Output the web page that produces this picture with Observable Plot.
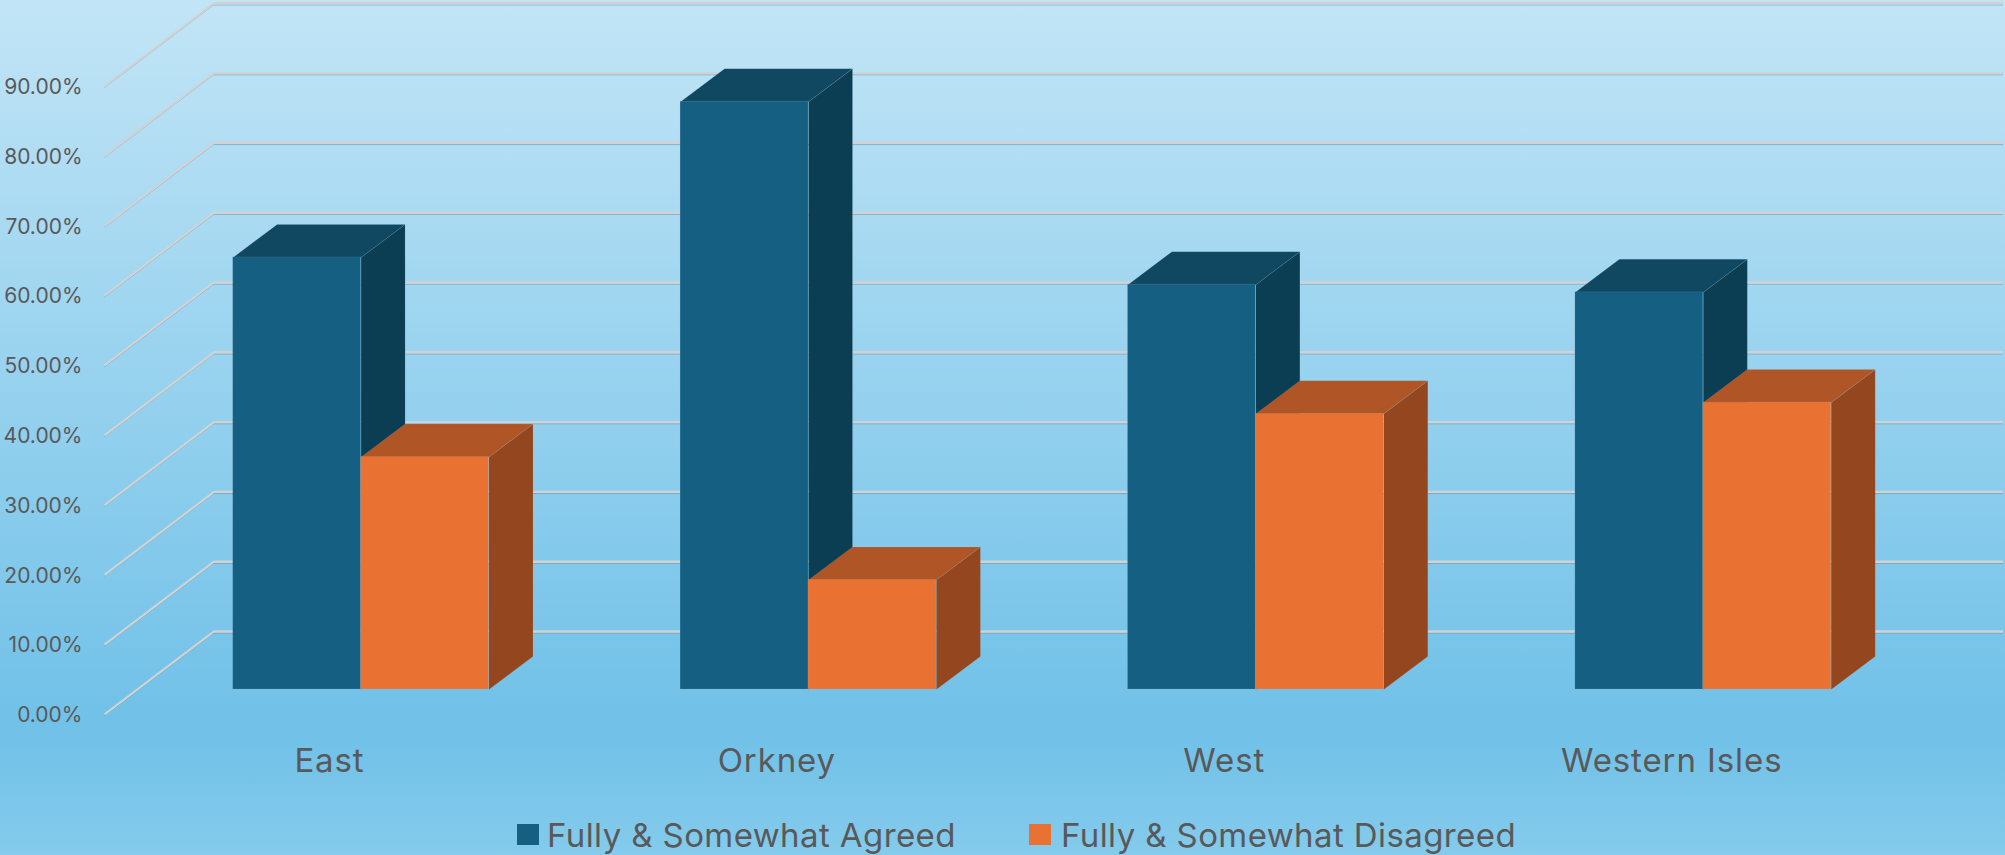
<!DOCTYPE html>
<html>
<head>
<meta charset="utf-8">
<script src="https://cdn.jsdelivr.net/npm/d3@7"></script>
<script src="https://cdn.jsdelivr.net/npm/@observablehq/plot@0.6"></script>
<style>
html,body{margin:0;padding:0;overflow:hidden;}
#page{position:relative;width:2005px;height:855px;overflow:hidden;
background:linear-gradient(180deg,#c2e5f6 0%,#71c1e8 84%,#71c1e8 86%,#84cbec 100%);}
#page svg{display:block;background:transparent;}
#page svg [aria-label="x-axis tick label"]{letter-spacing:0.9px;}
#legend{position:absolute;left:0;top:810px;width:2005px;height:45px;font-family:Inter,sans-serif;font-size:33px;letter-spacing:0.4px;color:#595959;}
#legend span{position:absolute;white-space:nowrap;}
</style>
</head>
<body>
<div id="page"><div id="chart"></div><div id="legend"></div></div>
<script>
const categories = ["East", "Orkney", "West", "Western Isles"];
const seriesNames = ["Fully & Somewhat Agreed", "Fully & Somewhat Disagreed"];
const agreed = [61.9, 84.2, 58.0, 56.9];
const disagreed = [33.3, 15.7, 39.5, 41.1];
const yTicks = [0, 10, 20, 30, 40, 50, 60, 70, 80, 90];
const frontColors = ["#156082", "#e97132"];
const topColors = ["#104862", "#b05525"];
const sideColors = ["#0b3e53", "#94471f"];

const values = [agreed, disagreed];
const barW = 0.2859, depthX = 0.0983, depthY = 4.73;
const wallFrontX = -0.2876, wallBackX = -0.0429, wallFrontY = -3.58, wallBackY = 8.31, gridEnd = 3.957, labelOffset = 0.2152;

const fronts = [], faces = [];
categories.forEach((c, i) => {
  seriesNames.forEach((s, k) => {
    const v = values[k][i], x0 = i + k * barW, x1 = x0 + barW;
    fronts.push({x1: x0, x2: x1, v, color: frontColors[k]});
    const side = `${c}-${k}-side`, top = `${c}-${k}-top`;
    [[x1, 0], [x1 + depthX, depthY], [x1 + depthX, v + depthY], [x1, v]].forEach(([x, y]) => faces.push({id: side, x, y, color: sideColors[k]}));
    [[x0, v], [x0 + depthX, v + depthY], [x1 + depthX, v + depthY], [x1, v]].forEach(([x, y]) => faces.push({id: top, x, y, color: topColors[k]}));
  });
});

const gridStyle = {stroke: "#d2d2d2", strokeWidth: 2.4};
const shadeStyle = {stroke: "#5f8fae", strokeWidth: 1, strokeOpacity: 0.55, dy: 1.7};
const wall = yTicks.map(v => ({x1: wallFrontX, y1: v + wallFrontY, x2: wallBackX, y2: v + wallBackY}));
const grid = yTicks.map(v => ({v: v + wallBackY}));
const edge = {stroke: "#9fc4d6", strokeOpacity: 0.15, strokeWidth: 0.8};

const chart = Plot.plot({
  width: 2005, height: 810,
  marginLeft: 85, marginRight: 0, marginTop: 0, marginBottom: 121,
  style: {background: "transparent", fontFamily: "Inter,sans-serif"},
  x: {type: "linear", domain: [-0.33013, 3.96133], axis: null},
  y: {domain: [0, 98.71], axis: null},
  marks: [
    Plot.ruleY(grid, {y: "v", x1: wallBackX, x2: gridEnd, ...shadeStyle}),
    Plot.link(wall, {x1: "x1", y1: "y1", x2: "x2", y2: "y2", ...shadeStyle, dy: 1.3}),
    Plot.ruleY(grid, {y: "v", x1: wallBackX, x2: gridEnd, ...gridStyle}),
    Plot.link(wall, {x1: "x1", y1: "y1", x2: "x2", y2: "y2", ...gridStyle, strokeWidth: 2.2}),
    Plot.line(faces, {x: "x", y: "y", z: "id", fill: "color", ...edge, curve: "linear"}),
    Plot.rectY(fronts, {x1: "x1", x2: "x2", y1: 0, y2: "v", fill: "color", ...edge}),
    Plot.axisY({anchor: "left", ticks: yTicks, tickSize: 0, tickPadding: 3, dy: 26, fontSize: 21, fill: "#595959", label: null,
      tickFormat: d => d.toFixed(2) + "%", fontVariant: "normal"}),
    Plot.axisX({anchor: "bottom", ticks: categories.map((c, i) => i + labelOffset), tickSize: 0, tickPadding: 59, fontSize: 33, fill: "#595959", label: null,
      tickFormat: (d, i) => categories[i], fontVariant: "normal"})
  ]
});
document.getElementById("chart").appendChild(chart);

const legendX = [[517, 547], [1029, 1061]];
const legend = document.getElementById("legend");
seriesNames.forEach((s, k) => {
  const sw = document.createElement("span");
  sw.style.cssText = `left:${legendX[k][0]}px;top:14px;width:21.5px;height:21px;background:${frontColors[k]}`;
  const t = document.createElement("span");
  t.style.cssText = `left:${legendX[k][1]}px;top:4px;line-height:42px`;
  t.textContent = s;
  legend.append(sw, t);
});
</script>
</body>
</html>
